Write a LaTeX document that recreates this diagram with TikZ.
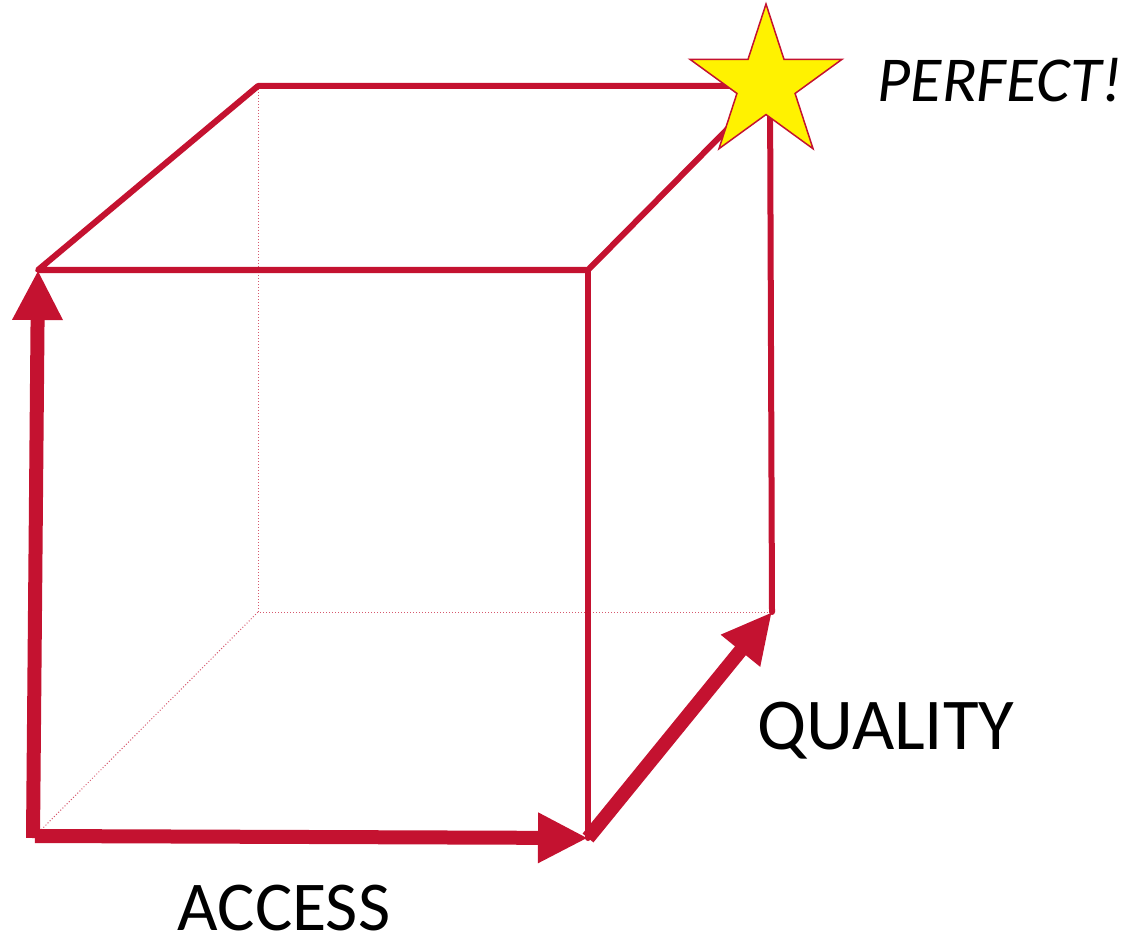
\documentclass[tikz,border=0pt]{standalone}
\usepackage{fontspec}
\setmainfont{Carlito}
\usepackage{tikz}
\usetikzlibrary{arrows.meta,shapes.geometric}
\definecolor{cubered}{RGB}{196,18,48}

\begin{document}
\begin{tikzpicture}[x=1pt,y=-1pt,
  edge/.style={draw=cubered,line width=6pt,line cap=round,line join=round},
  axis/.style={draw=cubered,line width=14pt,-{Triangle[length=50pt,width=47pt]}},
  hidden/.style={draw=cubered!70,line width=1pt,dotted},
  lab/.style={inner sep=0pt,anchor=base}]
  \useasboundingbox (0,0) rectangle (1145,941);
  % cube corners
  \coordinate (fbl) at (35,836);
  \coordinate (fbr) at (588,838);
  \coordinate (ftl) at (38,270);
  \coordinate (ftr) at (588,270);
  \coordinate (btl) at (258,86);
  \coordinate (btr) at (770,86);
  \coordinate (bbr) at (772,612);
  \coordinate (bbl) at (258,612);
  % hidden edges
  \draw[hidden] (btl) -- (bbl) -- (bbr);
  \draw[hidden] (fbl) -- (bbl);
  % visible edges
  \draw[edge] (ftl) -- (ftr) -- (btr) -- (btl) -- cycle;
  \draw[edge] (ftr) -- (fbr);
  \draw[edge] (btr) -- (bbr);
  % axes
  \draw[axis] (33,838) -- (ftl);
  \draw[axis] (fbl) -- (fbr);
  \draw[axis] (fbr) -- (bbr);
  \node[star,star points=5,star point ratio=2.618,minimum size=160pt,inner sep=0pt,
    fill=yellow,draw=cubered,line width=1.5pt] (goal) at (766,84) {};
  \node[lab,font=\fontsize{64}{70}\selectfont\itshape] (perfect) at (1000,102) {PERFECT!};
  \node[lab,font=\fontsize{73}{80}\selectfont] (quality) at (886,749) {QUALITY};
  \node[lab,font=\fontsize{70}{78}\selectfont] (access) at (284,930) {ACCESS};
\end{tikzpicture}
\end{document}
